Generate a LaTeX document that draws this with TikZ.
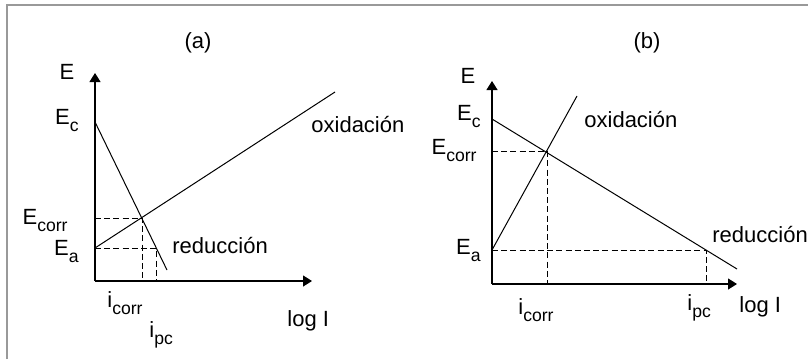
\documentclass[tikz,border=0pt]{standalone}
\usepackage{fontspec}
\setmainfont{Liberation Sans}
\usetikzlibrary{arrows.meta}
\newcommand{\sidx}[1]{\raisebox{-3.6pt}{\fontsize{8.8}{9}\selectfont #1}}

\begin{document}
\begin{tikzpicture}[x=0.5pt,y=-0.5pt,
    frame/.style={gray!80, line width=0.8pt},
    axis/.style={line width=0.6pt, -{Triangle[length=4.5pt,width=5.5pt]}},
    curve/.style={line width=0.5pt},
    guide/.style={line width=0.5pt, dash pattern=on 3pt off 1.6pt},
    lbl/.style={font=\fontsize{11}{12}\selectfont, inner sep=0pt}
  ]
    \useasboundingbox (0,0) rectangle (808,359);
    % Rahmen
    \draw[frame] (7,359) -- (7,5) -- (808,5);

    % Diagramm (a)
    \coordinate (oA) at (95,281);
    \coordinate (yA) at (95,73);
    \coordinate (xA) at (312,281);
    \coordinate (ecA) at (95,122);
    \coordinate (eaA) at (95,248);
    \coordinate (redA) at (167,270);
    \coordinate (oxA) at (335,92);
    \coordinate (corrA) at (142,218);
    \coordinate (pcA) at (156,248);
    \draw[axis] (oA) -- (yA);
    \draw[axis] (oA) -- (xA);
    \draw[curve] (ecA) -- (redA);
    \draw[curve] (eaA) -- (oxA);
    \draw[guide] (oA |- corrA) -- (corrA) -- (corrA |- oA);
    \draw[guide] (eaA) -- (pcA) -- (pcA |- oA);

    \node[lbl] (titleA) at (198,43) {(a)};
    \node[lbl, anchor=base] (eA) at (67,79) {E};
    \node[lbl, anchor=base east] (ecLblA) at (79,124) {E\sidx{c}};
    \node[lbl, anchor=base east] (ecorrLblA) at (68,224) {E\sidx{corr}};
    \node[lbl, anchor=base east] (eaLblA) at (79,255) {E\sidx{a}};
    \node[lbl, anchor=base west] (icorrLblA) at (107,307) {i\sidx{corr}};
    \node[lbl, anchor=base west] (ipcLblA) at (149,337) {i\sidx{pc}};
    \node[lbl, anchor=base west] (logA) at (287,326) {log I};
    \node[lbl, anchor=base west] (oxLblA) at (311,132) {oxidación};
    \node[lbl, anchor=base west] (redLblA) at (172,253) {reducción};

    % Diagramm (b)
    \coordinate (oB) at (492,284);
    \coordinate (yB) at (492,81);
    \coordinate (xB) at (737,284);
    \coordinate (ecB) at (492,119);
    \coordinate (eaB) at (492,250);
    \coordinate (redB) at (737,269);
    \coordinate (oxB) at (577,96);
    \coordinate (corrB) at (547,151);
    \coordinate (pcB) at (706,250);
    \draw[axis] (oB) -- (yB);
    \draw[axis] (oB) -- (xB);
    \draw[curve] (ecB) -- (redB);
    \draw[curve] (eaB) -- (oxB);
    \draw[guide] (oB |- corrB) -- (corrB) -- (corrB |- oB);
    \draw[guide] (eaB) -- (pcB) -- (pcB |- oB);

    \node[lbl] (titleB) at (647,43) {(b)};
    \node[lbl, anchor=base] (eB) at (468,83) {E};
    \node[lbl, anchor=base east] (ecLblB) at (481,120) {E\sidx{c}};
    \node[lbl, anchor=base east] (ecorrLblB) at (477,154) {E\sidx{corr}};
    \node[lbl, anchor=base east] (eaLblB) at (481,254) {E\sidx{a}};
    \node[lbl, anchor=base west] (icorrLblB) at (518,314) {i\sidx{corr}};
    \node[lbl, anchor=base west] (ipcLblB) at (687,310) {i\sidx{pc}};
    \node[lbl, anchor=base west] (logB) at (739,312) {log I};
    \node[lbl, anchor=base west] (oxLblB) at (584,127) {oxidación};
    \node[lbl, anchor=base west] (redLblB) at (712,242) {reducción};
\end{tikzpicture}
\end{document}
